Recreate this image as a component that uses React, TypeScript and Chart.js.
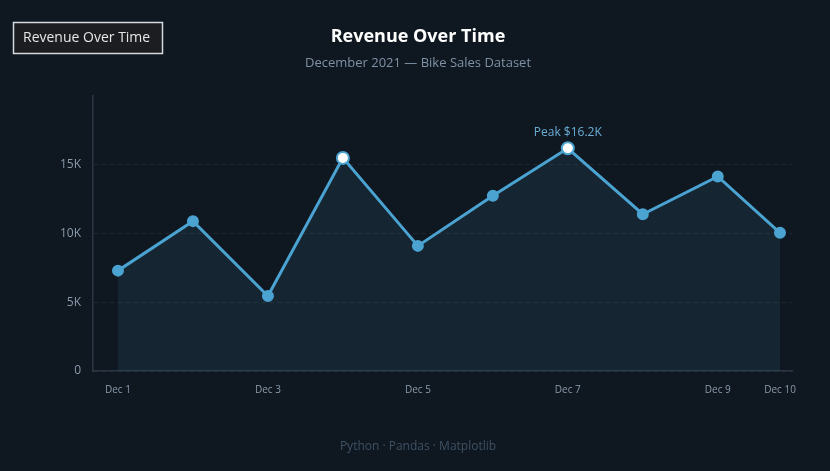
import React, { useEffect, useRef } from "react";
import { Chart, registerables } from "chart.js";

Chart.register(...registerables);

// Daily revenue, December 2021 (x = day of month)
const saleDays = [1, 2, 3, 4, 5, 6, 7, 8, 9, 9.83];
const revenue = [7300, 10900, 5450, 15500, 9100, 12750, 16200, 11400, 14150, 10050];

// X-axis ticks
const tickDays = [1, 3, 5, 7, 9, 9.83];
const tickLabels = ["Dec 1", "Dec 3", "Dec 5", "Dec 7", "Dec 9", "Dec 10"];

// Y-axis ticks
const revenueTicks = [0, 5000, 10000, 15000];

const TITLE = "Revenue Over Time";
const SUBTITLE = "December 2021 \u2014 Bike Sales Dataset";
const FOOTER = "Python \u00b7 Pandas \u00b7 Matplotlib";
const LEGEND_LABEL = "Revenue Over Time";

const BG = "#0f1821";
const LINE = "#4ba3d1";
const FONT = "'Open Sans', 'Noto Sans', sans-serif";
const HIGHLIGHT_AT = 15000;

const formatK = (v: number) => (v === 0 ? "0" : `${+(v / 1000).toFixed(1)}K`);

const decorations = {
  id: "decorations",
  afterDraw(chart: any) {
    const ctx = chart.ctx as CanvasRenderingContext2D;
    ctx.save();

    // Legend box
    ctx.fillStyle = "#1b1d20";
    ctx.fillRect(13.5, 22.5, 149, 31);
    ctx.strokeStyle = "#d5d8dc";
    ctx.lineWidth = 1.5;
    ctx.strokeRect(13.5, 22.5, 149, 31);
    ctx.fillStyle = "#e6e6e6";
    ctx.font = `14px ${FONT}`;
    ctx.textAlign = "left";
    ctx.textBaseline = "middle";
    ctx.fillText(LEGEND_LABEL, 23, 38.5);

    // Title, subtitle, footer
    ctx.textAlign = "center";
    ctx.fillStyle = "#ffffff";
    ctx.font = `bold 18px ${FONT}`;
    ctx.fillText(TITLE, 418, 37);
    ctx.fillStyle = "#7f91a4";
    ctx.font = `13px ${FONT}`;
    ctx.fillText(SUBTITLE, 418, 63);
    ctx.fillStyle = "#3e5163";
    ctx.font = `12px ${FONT}`;
    ctx.fillText(FOOTER, 418, 447);

    // Peak annotation
    const peak = Math.max(...revenue);
    const idx = revenue.indexOf(peak);
    const x = chart.scales.x.getPixelForValue(saleDays[idx]);
    const y = chart.scales.y.getPixelForValue(peak);
    ctx.fillStyle = "#6aaed6";
    ctx.font = `12px ${FONT}`;
    ctx.fillText(`Peak $${formatK(peak)}`, x, y - 16);

    ctx.restore();
  },
};

export default function App() {
  const canvasRef = useRef<HTMLCanvasElement | null>(null);

  useEffect(() => {
    document.body.style.margin = "0";
    document.body.style.background = BG;
    const canvas = canvasRef.current;
    if (!canvas) return;

    const pointFill = revenue.map((v) => (v >= HIGHLIGHT_AT ? "#ffffff" : LINE));
    const pointRadius = revenue.map((v) => (v >= HIGHLIGHT_AT ? 6 : 5));

    const chart = new Chart(canvas, {
      type: "line",
      data: {
        datasets: [
          {
            label: LEGEND_LABEL,
            data: saleDays.map((d, i) => ({ x: d, y: revenue[i] })),
            borderColor: LINE,
            borderWidth: 3,
            backgroundColor: "rgba(74,163,208,0.1)",
            fill: "origin",
            tension: 0,
            pointBackgroundColor: pointFill,
            pointBorderColor: LINE,
            pointBorderWidth: 2,
            pointRadius,
          },
        ],
      },
      options: {
        responsive: false,
        animation: false,
        layout: { padding: { left: 0, top: 96, right: 38, bottom: 60 } },
        plugins: {
          legend: { display: false },
          title: { display: false },
          tooltip: { enabled: false },
        },
        scales: {
          x: {
            type: "linear",
            min: 0.667,
            max: 9.99,
            afterBuildTicks: (scale: any) => {
              scale.ticks = tickDays.map((v) => ({ value: v }));
            },
            afterFit: (scale: any) => {
              scale.height = 40;
            },
            grid: { display: false, drawTicks: false },
            border: { display: true, color: "#2a3643", width: 1.5 },
            ticks: {
              autoSkip: false,
              maxRotation: 0,
              padding: 13,
              color: "#8b9aab",
              font: { family: FONT, size: 10 },
              callback: (_v: any, i: number) => tickLabels[i],
            },
          },
          y: {
            min: 0,
            max: 20000,
            afterBuildTicks: (scale: any) => {
              scale.ticks = revenueTicks.map((v) => ({ value: v }));
            },
            afterFit: (scale: any) => {
              scale.width = 93;
            },
            grid: {
              color: "rgba(255,255,255,0.07)",
              drawTicks: false,
              lineWidth: 1,
            },
            border: { display: true, color: "#2a3643", width: 1.5, dash: [4, 4] },
            ticks: {
              padding: 12,
              color: "#8b9aab",
              font: { family: FONT, size: 12 },
              callback: (v: any) => formatK(Number(v)),
            },
          },
        },
      },
      plugins: [decorations],
    });

    return () => chart.destroy();
  }, []);

  return (
    <div style={{ position: "fixed", left: 0, top: 0, width: 830, height: 471, background: BG }}>
      <canvas ref={canvasRef} width={830} height={471} />
    </div>
  );
}
